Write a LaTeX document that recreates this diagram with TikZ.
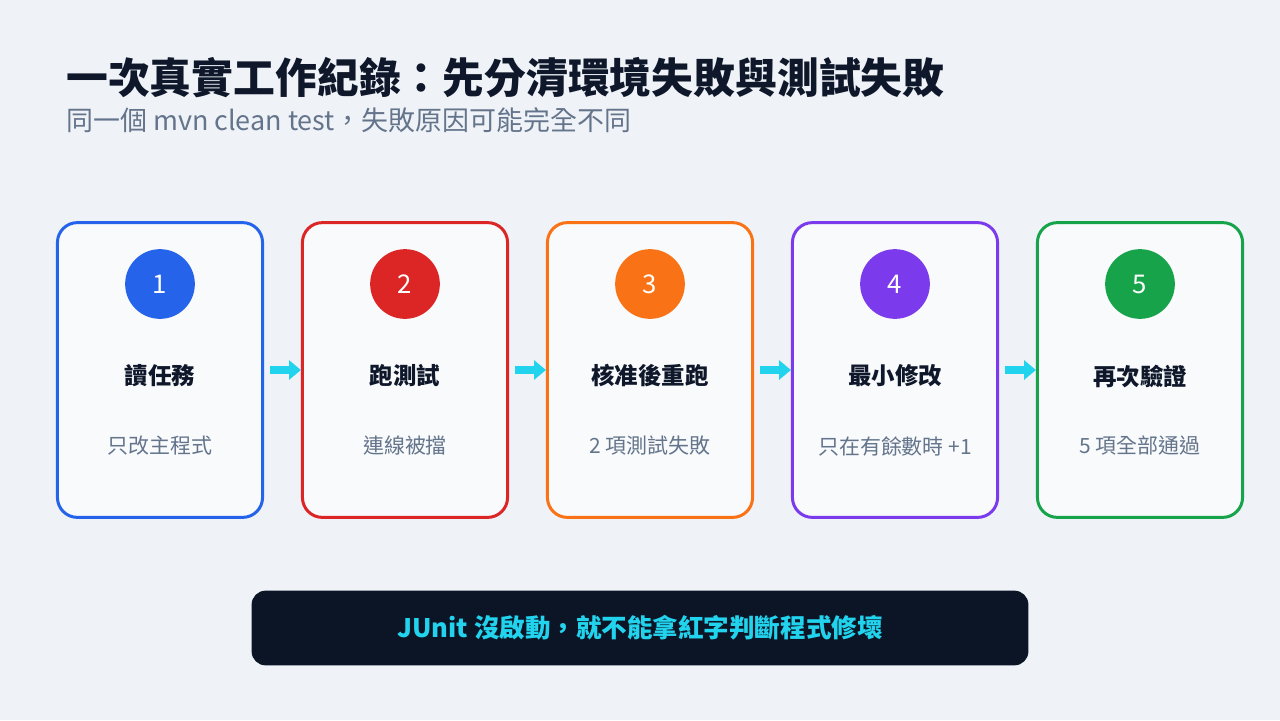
\documentclass[tikz,border=0pt]{standalone}
\usepackage{fontspec}
\setmainfont{Noto Sans CJK TC}
\usetikzlibrary{arrows.meta}
\definecolor{bg}{HTML}{EFF3F8}
\definecolor{boxfill}{HTML}{F8FAFC}
\definecolor{ink}{HTML}{0F172A}
\definecolor{muted}{HTML}{64748B}
\definecolor{cyanc}{HTML}{22D3EE}
\definecolor{barc}{HTML}{0B1526}
\definecolor{c1}{HTML}{2563EB}
\definecolor{c2}{HTML}{DC2626}
\definecolor{c3}{HTML}{F97316}
\definecolor{c4}{HTML}{7C3AED}
\definecolor{c5}{HTML}{16A34A}
\begin{document}
\begin{tikzpicture}[x=0.03cm,y=-0.03cm,
  card/.style={draw=#1,line width=3*0.85pt,fill=boxfill,rounded corners=20*0.85pt,minimum width=206*0.85pt,minimum height=296*0.85pt},
  num/.style={circle,fill=#1,minimum size=70*0.85pt,text=white,font=\fontsize{22}{26}\selectfont},
  ctitle/.style={font=\fontsize{20}{24}\selectfont\bfseries,text=ink},
  csub/.style={font=\fontsize{17.9}{21}\selectfont,text=muted},
  flow/.style={-{Triangle[length=10pt,width=16pt]},line width=7pt,draw=cyanc,shorten <=5pt}]
\fill[bg] (0,0) rectangle (1280,720);
\useasboundingbox (0,0) rectangle (1280,720);
\node[anchor=west,inner sep=0pt,font=\fontsize{35.7}{40}\selectfont\bfseries,text=ink] (title) at (66,78) {一次真實工作紀錄：先分清環境失敗與測試失敗};
\node[anchor=west,inner sep=0pt,font=\fontsize{23}{28}\selectfont,text=muted] (subtitle) at (66,120) {同一個 mvn clean test，失敗原因可能完全不同};
\foreach \i/\c/\t/\s in {1/c1/讀任務/只改主程式,2/c2/跑測試/連線被擋,3/c3/核准後重跑/2 項測試失敗,4/c4/最小修改/只在有餘數時 +1,5/c5/再次驗證/5 項全部通過}{
  \pgfmathsetmacro{\cx}{160+245*(\i-1)}
  \node[card=\c] (card\i) at (\cx,370) {};
  \node[num=\c] (n\i) at (\cx,284) {\i};
  \node[ctitle] (t\i) at (\cx,376) {\t};
  \node[csub] (s\i) at (\cx,446) {\s};
}
\foreach \a/\b in {1/2,2/3,3/4,4/5}{
  \draw[flow] (card\a.east) -- (card\b.west);
}
\node[fill=barc,rounded corners=14*0.85pt,minimum width=780*0.85pt,minimum height=75*0.85pt,text=cyanc,font=\fontsize{21.8}{26}\selectfont\bfseries] (bar) at (640,628) {JUnit 沒啟動，就不能拿紅字判斷程式修壞};
\end{tikzpicture}
\end{document}
